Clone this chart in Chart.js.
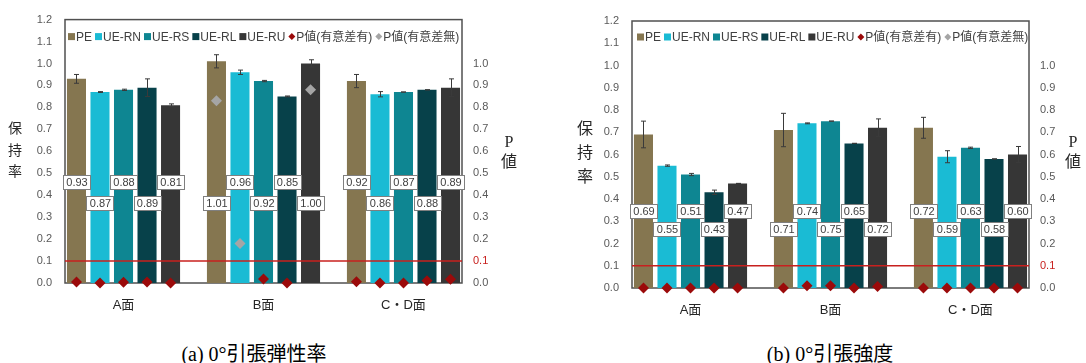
<!DOCTYPE html>
<html>
<head>
<meta charset="utf-8">
<script src="https://cdn.jsdelivr.net/npm/chart.js@4.4.1/dist/chart.umd.min.js"></script>
<style>
  html, body { margin: 0; padding: 0; background: #fff; }
  #wrap { position: relative; width: 1086px; height: 363px; overflow: hidden; }
  .panel { position: absolute; top: 0; }
  .vtitle { position: absolute; text-align: center; color: #262626; font-family: "Liberation Serif", "Noto Sans CJK JP", serif; }
  .cap { position: absolute; white-space: nowrap; color: #000; font-size: 20px; font-family: "Liberation Serif", "Noto Sans CJK JP", serif; transform: translateX(-50%); }
</style>
</head>
<body>
<div id="wrap">
  <div class="panel" style="left:0;width:545px;height:325px"><canvas id="chartA" width="545" height="325"></canvas></div>
  <div class="panel" style="left:545px;width:541px;height:325px"><canvas id="chartB" width="541" height="325"></canvas></div>

  <div class="vtitle" style="left:4px;top:118px;width:22px;font-size:14px;line-height:21.5px">保<br>持<br>率</div>
  <div class="vtitle" style="left:498px;top:132px;width:22px;font-size:16px;line-height:20px">P<br>値</div>
  <div class="vtitle" style="left:574px;top:117px;width:22px;font-size:16px;line-height:24px">保<br>持<br>率</div>
  <div class="vtitle" style="left:1062px;top:132px;width:22px;font-size:16px;line-height:20px">P<br>値</div>

  <div class="cap" style="left:254px;top:338px">(a) 0°引張弾性率</div>
  <div class="cap" style="left:830px;top:338px">(b) 0°引張強度</div>
</div>

<script>
// ---- categories / series / ticks ----
const categories = ['A面', 'B面', 'C・D面'];
const seriesNames = ['PE', 'UE-RN', 'UE-RS', 'UE-RL', 'UE-RU'];
const pLegendNames = ['P値(有意差有)', 'P値(有意差無)'];
const pThreshold = 0.1;
const retentionTickMax = 1.2;
const pTickMax = 1.0;
const tickStep = 0.1;

// ---- (a) 0°引張弾性率: 保持率 ----
const modPE = [0.93, 1.01, 0.92];
const modRN = [0.87, 0.96, 0.86];
const modRS = [0.88, 0.92, 0.87];
const modRL = [0.89, 0.85, 0.88];
const modRU = [0.81, 1.00, 0.89];
// error bar half-lengths
const modErrPE = [0.02, 0.03, 0.03];
const modErrRN = [0.002, 0.01, 0.012];
const modErrRS = [0.003, 0.003, 0.0];
const modErrRL = [0.04, 0.002, 0.0];
const modErrRU = [0.006, 0.017, 0.04];
// P values
const modPvPE = [0.005, 0.83, 0.006];
const modPvRN = [0.0, 0.18, 0.0];
const modPvRS = [0.003, 0.018, 0.0];
const modPvRL = [0.005, 0.0, 0.01];
const modPvRU = [0.0, 0.88, 0.017];

// ---- (b) 0°引張強度: 保持率 ----
const strPE = [0.69, 0.71, 0.72];
const strRN = [0.55, 0.74, 0.59];
const strRS = [0.51, 0.75, 0.63];
const strRL = [0.43, 0.65, 0.58];
const strRU = [0.47, 0.72, 0.60];
const strErrPE = [0.06, 0.075, 0.047];
const strErrRN = [0.003, 0.002, 0.027];
const strErrRS = [0.005, 0.0, 0.003];
const strErrRL = [0.01, 0.0, 0.0];
const strErrRU = [0.0, 0.04, 0.036];
const strPvPE = [0.0, 0.0, 0.0];
const strPvRN = [0.0, 0.01, 0.0];
const strPvRS = [0.0, 0.01, 0.0];
const strPvRL = [0.0, 0.0, 0.0];
const strPvRU = [0.0, 0.007, 0.0];

// ---- styling ----
const barColors = ['#857650', '#1ABBD4', '#0E8692', '#07414A', '#363636'];
const sigColor = '#9B0A0A';
const nonSigColor = '#A5A5A5';
const thresholdColor = '#C8201E';
const axisTextColor = '#595959';
const frameColor = '#505050';
const sansFamily = '"Liberation Sans", Arial, "Noto Sans CJK JP", sans-serif';
const categoryPct = 0.84;
const barPct = 0.81;
const xPad = 0.418;

function buildChart(canvasId, cfg) {
  const n = seriesNames.length;
  const barSets = cfg.values.map((vals, j) => ({
    type: 'bar',
    label: seriesNames[j],
    backgroundColor: barColors[j],
    borderWidth: 0,
    data: vals.map((v, g) => ({ x: g, y: v })),
    errors: cfg.errors[j],
    yAxisID: 'y',
    order: 1,
    categoryPercentage: categoryPct,
    barPercentage: barPct
  }));

  // P values sit on each bar's centre; split by the significance threshold
  const sigPts = [], nonPts = [];
  cfg.pvalues.forEach((pv, j) => pv.forEach((p, g) => {
    const pt = { x: g + (j - (n - 1) / 2) * categoryPct / n, y: p };
    (p < pThreshold ? sigPts : nonPts).push(pt);
  }));
  const pointSet = (label, color, pts) => ({
    type: 'line', label, data: pts, showLine: false, yAxisID: 'y2', order: 0,
    pointStyle: 'rectRot', pointRadius: 5.5, pointHoverRadius: 5.5,
    backgroundColor: color, borderColor: color, borderWidth: 0, clip: false,
    marker: 'diamond'
  });
  const pSets = [pointSet(pLegendNames[0], sigColor, sigPts), pointSet(pLegendNames[1], nonSigColor, nonPts)];

  const overlay = {
    id: 'overlay',
    beforeDatasetsDraw(chart) {
      const { ctx, chartArea: a } = chart;
      ctx.save();
      ctx.strokeStyle = frameColor;
      ctx.lineWidth = 1.5;
      ctx.strokeRect(a.left, a.top, a.right - a.left, a.bottom - a.top);
      ctx.restore();
    },
    afterDatasetsDraw(chart) {
      const { ctx, chartArea: a } = chart;
      const ys = chart.scales.y, y2 = chart.scales.y2;
      ctx.save();

      // significance threshold line
      const ty = y2.getPixelForValue(pThreshold);
      ctx.strokeStyle = thresholdColor;
      ctx.lineWidth = 1.5;
      ctx.beginPath(); ctx.moveTo(a.left, ty); ctx.lineTo(a.right, ty); ctx.stroke();

      // error bars
      ctx.strokeStyle = '#3A3A3A';
      ctx.lineWidth = 1;
      barSets.forEach((ds, j) => {
        const meta = chart.getDatasetMeta(j + 2);
        meta.data.forEach((el, g) => {
          const v = ds.data[g].y, e = ds.errors[g];
          const x = Math.round(el.x) + 0.5;
          const yt = ys.getPixelForValue(v + e), yb = ys.getPixelForValue(v - e);
          ctx.beginPath();
          ctx.moveTo(x, yt); ctx.lineTo(x, yb);
          ctx.moveTo(x - 2.5, yt); ctx.lineTo(x + 2.5, yt);
          ctx.moveTo(x - 2.5, yb); ctx.lineTo(x + 2.5, yb);
          ctx.stroke();
        });
      });

      // value labels in boxes, alternating between two rows
      ctx.font = '11px ' + sansFamily;
      ctx.textAlign = 'center';
      ctx.textBaseline = 'middle';
      barSets.forEach((ds, j) => {
        const meta = chart.getDatasetMeta(j + 2);
        meta.data.forEach((el, g) => {
          const txt = ds.data[g].y.toFixed(2);
          const row = (j + g) % 2;
          const cy = Math.round(ys.getPixelForValue(cfg.labelRows[row]));
          const w = Math.ceil(ctx.measureText(txt).width) + 5, h = 14;
          const bx = Math.round(el.x - w / 2) + 0.5, by = cy - h / 2 + 0.5;
          ctx.fillStyle = '#fff';
          ctx.fillRect(bx, by, w, h);
          ctx.strokeStyle = '#7F7F7F';
          ctx.strokeRect(bx, by, w, h);
          ctx.fillStyle = '#404040';
          ctx.fillText(txt, el.x + 0.5, cy + 1);
        });
      });

      // legend inside the plot frame
      ctx.font = '12px ' + sansFamily;
      ctx.textAlign = 'left';
      ctx.textBaseline = 'middle';
      let lx = a.left + cfg.legendDx;
      const ly = a.top + cfg.legendDy;
      const items = [...barSets, ...pSets];
      items.forEach(it => {
        ctx.fillStyle = it.backgroundColor;
        if (it.marker === 'diamond') {
          ctx.beginPath();
          ctx.moveTo(lx + 3.5, ly - 3.5); ctx.lineTo(lx + 7, ly);
          ctx.lineTo(lx + 3.5, ly + 3.5); ctx.lineTo(lx, ly);
          ctx.closePath(); ctx.fill();
        } else {
          ctx.fillRect(lx, ly - 3.5, 7, 7);
        }
        lx += 8;
        ctx.fillStyle = '#404040';
        ctx.fillText(it.label, lx, ly + 1);
        lx += ctx.measureText(it.label).width + cfg.legendGap;
      });
      ctx.restore();
    }
  };

  return new Chart(document.getElementById(canvasId), {
    data: { datasets: [...pSets, ...barSets] },
    options: {
      responsive: false,
      animation: false,
      events: [],
      layout: { padding: { top: cfg.top, left: 0, right: 0, bottom: 0 } },
      plugins: { legend: { display: false }, tooltip: { enabled: false } },
      scales: {
        x: {
          type: 'linear', min: -xPad, max: categories.length - 1 + xPad, offset: false,
          grid: { display: false, drawTicks: false }, border: { display: false },
          afterBuildTicks: s => { s.ticks = categories.map((c, i) => ({ value: i })); },
          afterFit: s => { s.height = cfg.bottomH; },
          ticks: {
            autoSkip: false, maxRotation: 0, padding: 15, color: '#262626',
            font: { size: 13, family: sansFamily },
            callback: v => categories[v] ?? ''
          }
        },
        y: {
          position: 'left', min: 0, max: retentionTickMax,
          grid: { display: false, drawTicks: false }, border: { display: false },
          afterFit: s => { s.width = cfg.leftW; },
          ticks: {
            stepSize: tickStep, maxTicksLimit: 20, padding: 13, color: axisTextColor,
            font: { size: 11, family: sansFamily },
            callback: v => v.toFixed(1)
          }
        },
        y2: {
          position: 'right', min: 0, max: retentionTickMax,
          grid: { display: false, drawTicks: false }, border: { display: false },
          afterFit: s => { s.width = cfg.rightW; },
          ticks: {
            stepSize: tickStep, maxTicksLimit: 20, padding: 11,
            font: { size: 11, family: sansFamily },
            color: c => Math.abs(c.tick.value - pThreshold) < 1e-6 ? thresholdColor : axisTextColor,
            callback: v => v <= pTickMax + 1e-6 ? v.toFixed(1) : ''
          }
        }
      }
    },
    plugins: [overlay]
  });
}

buildChart('chartA', {
  values: [modPE, modRN, modRS, modRL, modRU],
  errors: [modErrPE, modErrRN, modErrRS, modErrRL, modErrRU],
  pvalues: [modPvPE, modPvRN, modPvRS, modPvRL, modPvRU],
  labelRows: [0.458, 0.365],
  top: 16, bottomH: 42, leftW: 65, rightW: 83,
  legendDx: 3, legendDy: 17, legendGap: 3
});

buildChart('chartB', {
  values: [strPE, strRN, strRS, strRL, strRU],
  errors: [strErrPE, strErrRN, strErrRS, strErrRL, strErrRU],
  pvalues: [strPvPE, strPvRN, strPvRS, strPvRL, strPvRU],
  labelRows: [0.345, 0.264],
  top: 21, bottomH: 37, leftW: 87, rightW: 57,
  legendDx: 5, legendDy: 16, legendGap: 3
});
</script>
</body>
</html>
